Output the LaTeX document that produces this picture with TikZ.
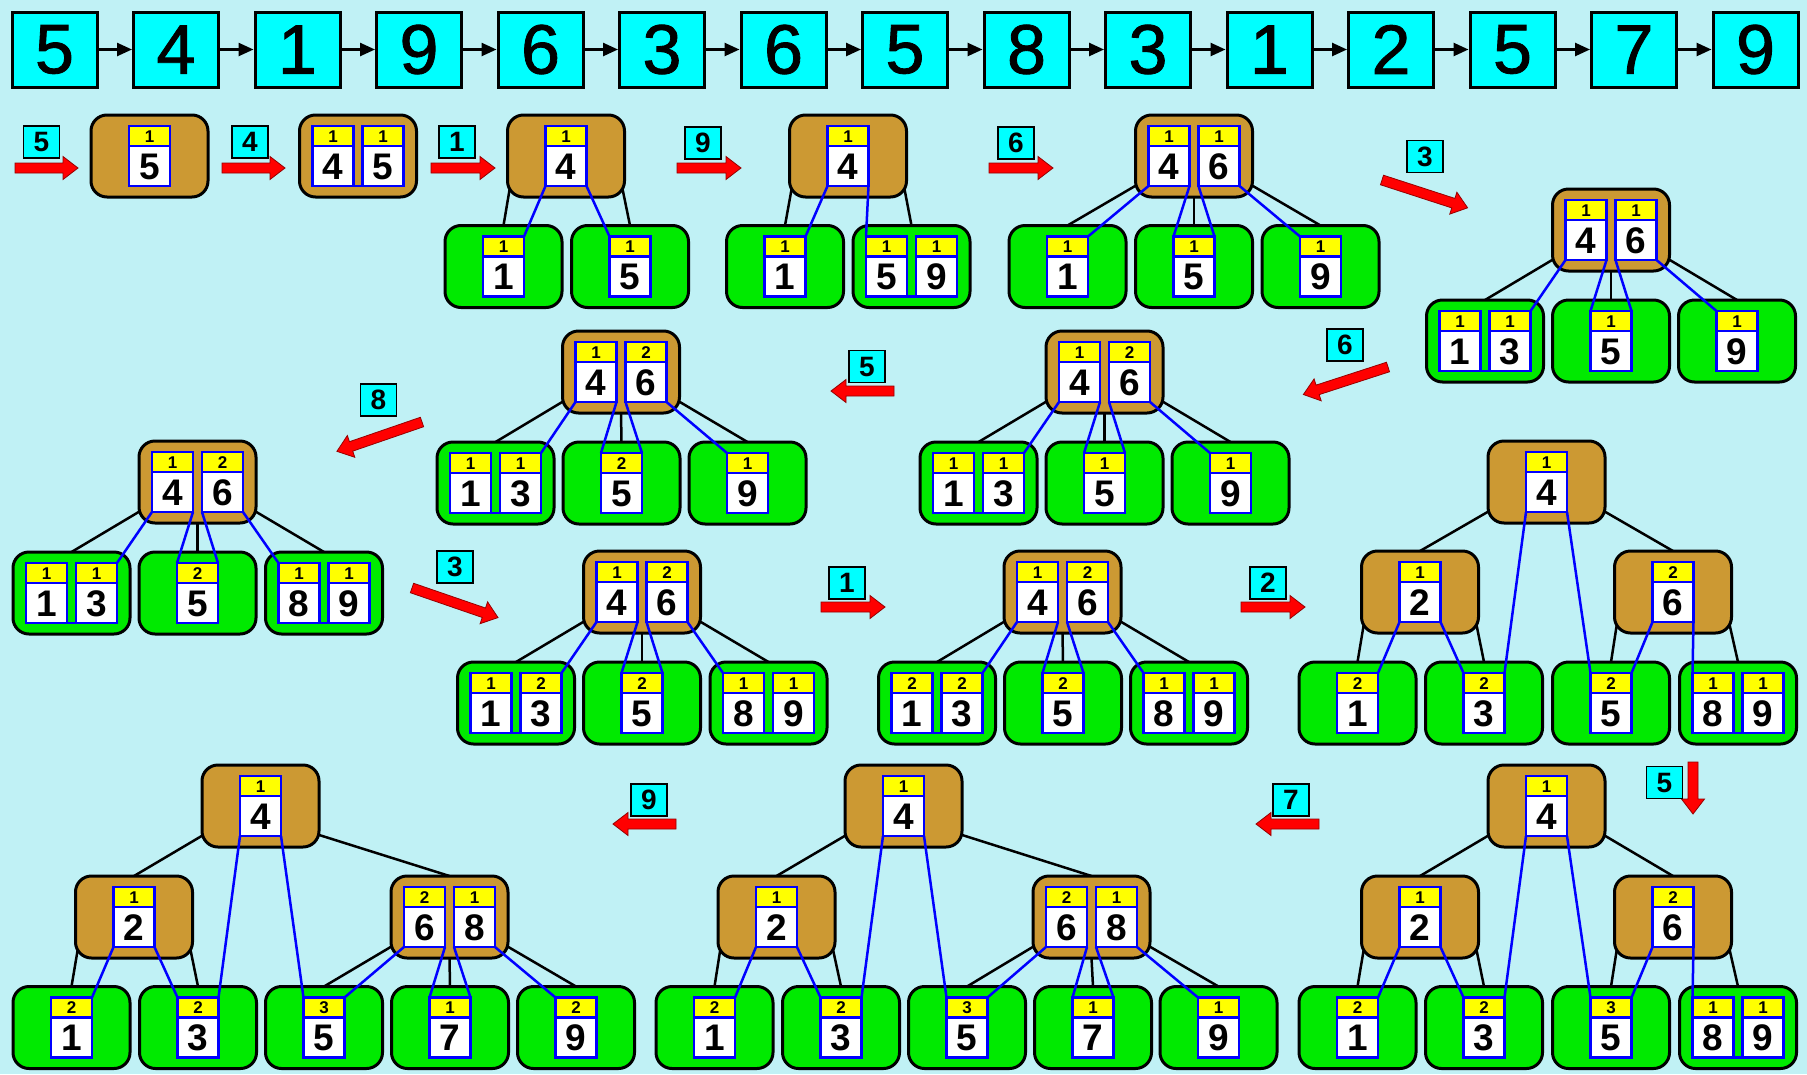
\documentclass[tikz,border=0pt]{standalone}
\usepackage{fontspec}
\setmainfont{Liberation Sans}
\newfontfamily\topfont[FakeBold=1.2]{Liberation Sans}
\usetikzlibrary{arrows.meta}
\definecolor{bgc}{RGB}{192,241,245}
\definecolor{brownc}{RGB}{204,153,51}
\definecolor{greenc}{RGB}{0,234,0}
\definecolor{cyanc}{RGB}{0,255,255}
\definecolor{yelc}{RGB}{255,255,0}
\definecolor{bluec}{RGB}{0,0,255}
\definecolor{redc}{RGB}{255,0,0}
\definecolor{dredc}{RGB}{150,0,0}
\pgfdeclarelayer{bglayer}
\pgfdeclarelayer{edgelayer}
\pgfsetlayers{bglayer,edgelayer,main}
\tikzset{
 topbox/.style={draw=black, line width=3pt, fill=cyanc, minimum width=85pt, minimum height=75pt, inner sep=0pt, font=\topfont\fontsize{70}{70}\selectfont},
 toparr/.style={line width=2.5pt, -{Triangle[length=15pt,width=13pt]}},
 lbl/.style={draw=black, line width=1.5pt, fill=cyanc, minimum width=36pt, minimum height=32pt, inner sep=0pt, font=\bfseries\fontsize{28}{28}\selectfont},
 tbox/.style={draw=black, line width=3pt, rounded corners=16pt, minimum width=117pt, minimum height=82pt, inner sep=0pt, outer sep=0pt},
 cellbox/.style={draw=bluec, line width=2.5pt, minimum width=41pt, minimum height=60pt, inner sep=0pt, outer sep=0pt},
 cnt/.style={inner sep=0pt, font=\bfseries\fontsize{17}{17}\selectfont},
 keyt/.style={inner sep=0pt, font=\bfseries\fontsize{37}{37}\selectfont},
 tedge/.style={draw=black, line width=2.5pt},
 bline/.style={draw=bluec, line width=2.5pt},
}
\newcommand\KCell[5]{%
 \fill[white] (#2-20.5,#3-10) rectangle (#2+20.5,#3+30);
 \fill[yelc] (#2-20.5,#3-30) rectangle (#2+20.5,#3-10);
 \draw[bline] (#2-20.5,#3-10) -- (#2+20.5,#3-10);
 \node[cellbox] (#1) at (#2,#3) {};
 \node[cnt] (#1c) at (#2,#3-19.5) {#4};
 \node[keyt] (#1k) at (#2,#3+10.5) {#5};}
\newcommand\NodeOne[6]{\node[tbox,fill=#4] (#1) at (#2,#3) {};\KCell{#1a}{#2}{#3}{#5}{#6}}
\newcommand\NodeTwo[8]{\node[tbox,fill=#4] (#1) at (#2,#3) {};\KCell{#1a}{#2-25}{#3}{#5}{#6}\KCell{#1b}{#2+25}{#3}{#7}{#8}}
\newcommand\LinkC[1]{\draw[bline] (#1a.south east) -- (#1b.south west);}
\newcommand\EdgeL[2]{\begin{pgfonlayer}{edgelayer}\draw[tedge] ([shift={(3,-13)}]#1.south west) -- (#2.north);\end{pgfonlayer}}
\newcommand\EdgeR[2]{\begin{pgfonlayer}{edgelayer}\draw[tedge] ([shift={(-3,-13)}]#1.south east) -- (#2.north);\end{pgfonlayer}}
\newcommand\EdgeM[2]{\begin{pgfonlayer}{edgelayer}\draw[tedge] (#1.south) -- (#2.north);\end{pgfonlayer}}
\newcommand\BLn[2]{\draw[bline] (#1.south west) -- (#2.north east);}
\newcommand\BRn[2]{\draw[bline] (#1.south east) -- (#2.north west);}
\newcommand\RArrow[4]{\begin{scope}[shift={(#1,#2)},rotate=#3]\filldraw[fill=redc,draw=dredc,line width=0.8pt] (0,-5) -- (#4-15,-5) -- (#4-15,-11.5) -- (#4,0) -- (#4-15,11.5) -- (#4-15,5) -- (0,5) -- cycle;\end{scope}}
\begin{document}
\begin{tikzpicture}[x=1pt,y=-1pt]
\begin{pgfonlayer}{bglayer}
\fill[bgc] (0,0) rectangle (1807,1074);
\end{pgfonlayer}
\useasboundingbox (0,0) rectangle (1807,1074);
% top row
\foreach \v [count=\i] in {5,4,1,9,6,3,6,5,8,3,1,2,5,7,9} {
  \node[topbox] (q\i) at ({54.5+121.5*(\i-1)},49.5) {\v};
}
\foreach \i [evaluate=\i as \j using int(\i+1)] in {1,...,14} {
  \draw[toparr] (q\i.east) -- (q\j.west);
}
% red arrows
\RArrow{15}{168}{0}{63}
\RArrow{222}{168}{0}{63}
\RArrow{431}{168}{0}{64}
\RArrow{677}{168}{0}{64}
\RArrow{989}{168}{0}{64}
\RArrow{1382}{180}{-18}{90}
\RArrow{1388}{367}{198}{89}
\RArrow{894}{391}{180}{63}
\RArrow{422}{422}{199}{90}
\RArrow{412}{588}{-19}{91}
\RArrow{821}{607}{0}{64}
\RArrow{1241}{607}{0}{64}
\RArrow{1693}{762}{-90}{52}
\RArrow{1319}{824}{180}{63}
\RArrow{676}{824}{180}{63}
% labels
\node[lbl] (n1) at (41.5,142) {5};
\node[lbl] (n2) at (250,142) {4};
\node[lbl] (n3) at (457,142) {1};
\node[lbl] (n4) at (703,143) {9};
\node[lbl] (n5) at (1016,143) {6};
\node[lbl] (n6) at (1425,156.5) {3};
\node[lbl] (n7) at (1345,345) {6};
\node[lbl] (n8) at (867,366.5) {5};
\node[lbl] (n9) at (378.5,400) {8};
\node[lbl] (n10) at (455,567) {3};
\node[lbl] (n11) at (847,583) {1};
\node[lbl] (n12) at (1268,583) {2};
\node[lbl] (n13) at (1664.5,782.5) {5};
\node[lbl] (n14) at (1291,800) {7};
\node[lbl] (n15) at (649,800) {9};
% T1
\NodeOne{ta}{149.5}{156}{brownc}{1}{5}
% T2
\NodeTwo{tb}{358}{156}{brownc}{1}{4}{1}{5}
\LinkC{tb}
% T3
\NodeOne{tcr}{566}{156}{brownc}{1}{4}
\NodeOne{tcx}{503.5}{266.5}{greenc}{1}{1}
\NodeOne{tcy}{630}{266.5}{greenc}{1}{5}
\EdgeL{tcr}{tcx}\EdgeR{tcr}{tcy}
\BLn{tcra}{tcxa}\BRn{tcra}{tcya}
% T4
\NodeOne{tdr}{848}{156}{brownc}{1}{4}
\NodeOne{tdx}{785}{266.5}{greenc}{1}{1}
\NodeTwo{tdy}{911.5}{266.5}{greenc}{1}{5}{1}{9}
\LinkC{tdy}
\EdgeL{tdr}{tdx}\EdgeR{tdr}{tdy}
\BLn{tdra}{tdxa}\BRn{tdra}{tdya}
% T5
\NodeTwo{ter}{1194}{156}{brownc}{1}{4}{1}{6}
\NodeOne{tex}{1067.5}{266.5}{greenc}{1}{1}
\NodeOne{tey}{1194}{266.5}{greenc}{1}{5}
\NodeOne{tez}{1320.5}{266.5}{greenc}{1}{9}
\EdgeL{ter}{tex}\EdgeM{ter}{tey}\EdgeR{ter}{tez}
\BLn{tera}{texa}\BRn{tera}{teya}\BLn{terb}{teya}\BRn{terb}{teza}
% T6
\NodeTwo{tfr}{1611}{230}{brownc}{1}{4}{1}{6}
\NodeTwo{tfx}{1485}{341}{greenc}{1}{1}{1}{3}
\LinkC{tfx}
\NodeOne{tfy}{1611}{341}{greenc}{1}{5}
\NodeOne{tfz}{1737}{341}{greenc}{1}{9}
\EdgeL{tfr}{tfx}\EdgeM{tfr}{tfy}\EdgeR{tfr}{tfz}
\BLn{tfra}{tfxb}\BRn{tfra}{tfya}\BLn{tfrb}{tfya}\BRn{tfrb}{tfza}
% T7
\NodeTwo{tgr}{1104.5}{372}{brownc}{1}{4}{2}{6}
\NodeTwo{tgx}{978.5}{483}{greenc}{1}{1}{1}{3}
\LinkC{tgx}
\NodeOne{tgy}{1104.5}{483}{greenc}{1}{5}
\NodeOne{tgz}{1230.5}{483}{greenc}{1}{9}
\EdgeL{tgr}{tgx}\EdgeM{tgr}{tgy}\EdgeR{tgr}{tgz}
\BLn{tgra}{tgxb}\BRn{tgra}{tgya}\BLn{tgrb}{tgya}\BRn{tgrb}{tgza}
% T8
\NodeTwo{thr}{621}{372}{brownc}{1}{4}{2}{6}
\NodeTwo{thx}{495.5}{483}{greenc}{1}{1}{1}{3}
\LinkC{thx}
\NodeOne{thy}{621.5}{483}{greenc}{2}{5}
\NodeOne{thz}{747.5}{483}{greenc}{1}{9}
\EdgeL{thr}{thx}\EdgeM{thr}{thy}\EdgeR{thr}{thz}
\BLn{thra}{thxb}\BRn{thra}{thya}\BLn{thrb}{thya}\BRn{thrb}{thza}
% T9
\NodeTwo{tir}{197.5}{482}{brownc}{1}{4}{2}{6}
\NodeTwo{tix}{71.5}{593}{greenc}{1}{1}{1}{3}
\LinkC{tix}
\NodeOne{tiy}{197.5}{593}{greenc}{2}{5}
\NodeTwo{tiz}{324}{593}{greenc}{1}{8}{1}{9}
\LinkC{tiz}
\EdgeL{tir}{tix}\EdgeM{tir}{tiy}\EdgeR{tir}{tiz}
\BLn{tira}{tixb}\BRn{tira}{tiya}\BLn{tirb}{tiya}\BRn{tirb}{tiza}
% T10
\NodeTwo{tjr}{642}{592}{brownc}{1}{4}{2}{6}
\NodeTwo{tjx}{516}{703}{greenc}{1}{1}{2}{3}
\LinkC{tjx}
\NodeOne{tjy}{642}{703}{greenc}{2}{5}
\NodeTwo{tjz}{768.5}{703}{greenc}{1}{8}{1}{9}
\LinkC{tjz}
\EdgeL{tjr}{tjx}\EdgeM{tjr}{tjy}\EdgeR{tjr}{tjz}
\BLn{tjra}{tjxb}\BRn{tjra}{tjya}\BLn{tjrb}{tjya}\BRn{tjrb}{tjza}
% T11
\NodeTwo{tkr}{1062.5}{592}{brownc}{1}{4}{2}{6}
\NodeTwo{tkx}{937}{703}{greenc}{2}{1}{2}{3}
\LinkC{tkx}
\NodeOne{tky}{1063}{703}{greenc}{2}{5}
\NodeTwo{tkz}{1189}{703}{greenc}{1}{8}{1}{9}
\LinkC{tkz}
\EdgeL{tkr}{tkx}\EdgeM{tkr}{tky}\EdgeR{tkr}{tkz}
\BLn{tkra}{tkxb}\BRn{tkra}{tkya}\BLn{tkrb}{tkya}\BRn{tkrb}{tkza}
% T12
\NodeOne{tlr}{1546.5}{482}{brownc}{1}{4}
\NodeOne{tlm}{1420}{592}{brownc}{1}{2}
\NodeOne{tln}{1673}{592}{brownc}{2}{6}
\NodeOne{tlp}{1357.5}{703}{greenc}{2}{1}
\NodeOne{tlq}{1484}{703}{greenc}{2}{3}
\NodeOne{tls}{1611}{703}{greenc}{2}{5}
\NodeTwo{tlt}{1738}{703}{greenc}{1}{8}{1}{9}
\LinkC{tlt}
\EdgeL{tlr}{tlm}\EdgeR{tlr}{tln}
\EdgeL{tlm}{tlp}\EdgeR{tlm}{tlq}
\EdgeL{tln}{tls}\EdgeR{tln}{tlt}
\BLn{tlra}{tlqa}\BRn{tlra}{tlsa}
\BLn{tlma}{tlpa}\BRn{tlma}{tlqa}
\BLn{tlna}{tlsa}\BRn{tlna}{tlta}
% T13
\NodeOne{tmr}{1546.5}{806}{brownc}{1}{4}
\NodeOne{tmm}{1420}{917}{brownc}{1}{2}
\NodeOne{tmn}{1673}{917}{brownc}{2}{6}
\NodeOne{tmp}{1357.5}{1027.5}{greenc}{2}{1}
\NodeOne{tmq}{1484}{1027.5}{greenc}{2}{3}
\NodeOne{tms}{1611}{1027.5}{greenc}{3}{5}
\NodeTwo{tmt}{1738}{1027.5}{greenc}{1}{8}{1}{9}
\LinkC{tmt}
\EdgeL{tmr}{tmm}\EdgeR{tmr}{tmn}
\EdgeL{tmm}{tmp}\EdgeR{tmm}{tmq}
\EdgeL{tmn}{tms}\EdgeR{tmn}{tmt}
\BLn{tmra}{tmqa}\BRn{tmra}{tmsa}
\BLn{tmma}{tmpa}\BRn{tmma}{tmqa}
\BLn{tmna}{tmsa}\BRn{tmna}{tmta}
% T14
\NodeOne{tnr}{903.5}{806}{brownc}{1}{4}
\NodeOne{tnm}{776.5}{917}{brownc}{1}{2}
\NodeTwo{tnn}{1091.5}{917}{brownc}{2}{6}{1}{8}
\NodeOne{tnp}{714.5}{1027.5}{greenc}{2}{1}
\NodeOne{tnq}{841}{1027.5}{greenc}{2}{3}
\NodeOne{tns}{967}{1027.5}{greenc}{3}{5}
\NodeOne{tnt}{1093}{1027.5}{greenc}{1}{7}
\NodeOne{tnu}{1218.5}{1027.5}{greenc}{1}{9}
\EdgeL{tnr}{tnm}\EdgeR{tnr}{tnn}
\EdgeL{tnm}{tnp}\EdgeR{tnm}{tnq}
\EdgeL{tnn}{tns}\EdgeM{tnn}{tnt}\EdgeR{tnn}{tnu}
\BLn{tnra}{tnqa}\BRn{tnra}{tnsa}
\BLn{tnma}{tnpa}\BRn{tnma}{tnqa}
\BLn{tnna}{tnsa}\BRn{tnna}{tnta}\BLn{tnnb}{tnta}\BRn{tnnb}{tnua}
% T15
\NodeOne{tor}{260.5}{806}{brownc}{1}{4}
\NodeOne{tom}{134}{917}{brownc}{1}{2}
\NodeTwo{ton}{449.5}{917}{brownc}{2}{6}{1}{8}
\NodeOne{top}{71.5}{1027.5}{greenc}{2}{1}
\NodeOne{toq}{198}{1027.5}{greenc}{2}{3}
\NodeOne{tos}{324}{1027.5}{greenc}{3}{5}
\NodeOne{tot}{450}{1027.5}{greenc}{1}{7}
\NodeOne{tou}{576}{1027.5}{greenc}{2}{9}
\EdgeL{tor}{tom}\EdgeR{tor}{ton}
\EdgeL{tom}{top}\EdgeR{tom}{toq}
\EdgeL{ton}{tos}\EdgeM{ton}{tot}\EdgeR{ton}{tou}
\BLn{tora}{toqa}\BRn{tora}{tosa}
\BLn{toma}{topa}\BRn{toma}{toqa}
\BLn{tona}{tosa}\BRn{tona}{tota}\BLn{tonb}{tota}\BRn{tonb}{toua}
\end{tikzpicture}
\end{document}
